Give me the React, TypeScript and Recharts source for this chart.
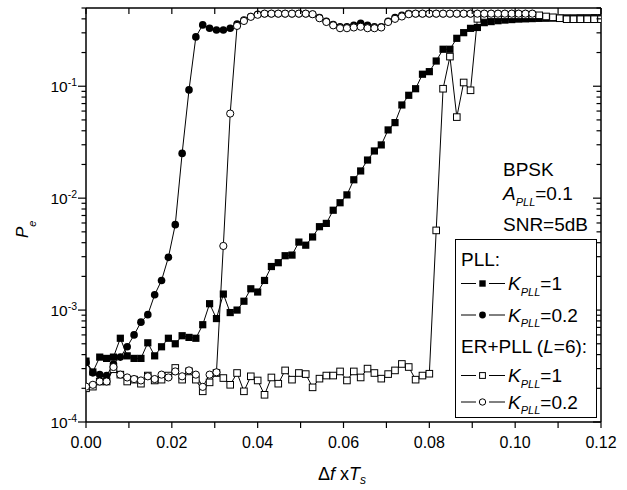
import React from "react";
import { LineChart, Line, XAxis, YAxis, Legend } from "recharts";

const FONT = '"Liberation Sans", Arial, Helvetica, sans-serif';

// frequency offset grid, Δf x Ts
const dfTs = [
  0, 0.0016, 0.0032, 0.0048, 0.0064, 0.008, 0.0096, 0.0112, 0.0128, 0.0144,
  0.016, 0.0176, 0.0192, 0.0208, 0.0224, 0.024, 0.0256, 0.0272, 0.0288, 0.0304,
  0.032, 0.0336, 0.0352, 0.0368, 0.0384, 0.04, 0.0416, 0.0432, 0.0448, 0.0464,
  0.048, 0.0496, 0.0512, 0.0528, 0.0544, 0.056, 0.0576, 0.0592, 0.0608, 0.0624,
  0.064, 0.0656, 0.0672, 0.0688, 0.0704, 0.072, 0.0736, 0.0752, 0.0768, 0.0784,
  0.08, 0.0816, 0.0832, 0.0848, 0.0864, 0.088, 0.0896, 0.0912, 0.0928, 0.0944,
  0.096, 0.0976, 0.0992, 0.1008, 0.1024, 0.104, 0.1056, 0.1072, 0.1088, 0.1104,
  0.112, 0.1136, 0.1152, 0.1168, 0.1184, 0.12,
];

// PLL, K_PLL = 1 (filled squares)
const pllK1 = [
  3.5e-4, 2.8e-4, 3.8e-4, 3.7e-4, 3.8e-4, 5.6e-4, 3.9e-4, 3.7e-4, 3.7e-4, 5.1e-4,
  3.9e-4, 4.7e-4, 5.6e-4, 5.0e-4, 5.9e-4, 5.7e-4, 5.6e-4, 7.4e-4, 1.14e-3, 8.4e-4,
  1.39e-3, 9.5e-4, 1.0e-3, 1.2e-3, 1.55e-3, 1.45e-3, 1.84e-3, 2.45e-3, 2.65e-3, 3.06e-3,
  3.1e-3, 4.05e-3, 3.8e-3, 4.5e-3, 5.56e-3, 5.95e-3, 7.8e-3, 9.1e-3, 1.07e-2, 1.46e-2,
  1.75e-2, 2.19e-2, 2.64e-2, 2.99e-2, 4.07e-2, 4.73e-2, 6.8e-2, 8.3e-2, 9.5e-2, 0.128,
  0.135, 0.168, 0.214, 0.214, 0.268, 0.301, 0.329, 0.335, 0.37, 0.378,
  0.385, 0.39, 0.394, 0.398, 0.4, 0.402, 0.404, 0.405, 0.406, 0.407,
  0.408, 0.408, 0.409, 0.409, 0.41, 0.41,
];

// PLL, K_PLL = 0.2 (filled circles)
const pllK02 = [
  3.4e-4, 2.75e-4, 2.65e-4, 2.6e-4, 3.3e-4, 3.8e-4, 4.7e-4, 6.0e-4, 7.8e-4, 9.1e-4,
  1.37e-3, 1.84e-3, 2.96e-3, 5.8e-3, 2.51e-2, 9.27e-2, 0.276, 0.353, 0.33, 0.318,
  0.318, 0.33, 0.36, 0.39, 0.42, 0.44, 0.445, 0.445, 0.445, 0.445,
  0.445, 0.445, 0.445, 0.44, 0.41, 0.38, 0.355, 0.34, 0.34, 0.35,
  0.365, 0.35, 0.34, 0.34, 0.38, 0.41, 0.43, 0.445, 0.445, 0.445,
  0.445, 0.445, 0.445, 0.445, 0.445, 0.445, 0.445, 0.445, 0.445, 0.445,
  0.445, 0.445, 0.445, 0.445, 0.445, 0.445,
];

// ER+PLL (L=6), K_PLL = 1 (open squares)
const erK1 = [
  2.0e-4, 2.07e-4, 2.3e-4, 2.3e-4, 2.96e-4, 2.65e-4, 2.3e-4, 2.39e-4, 2.2e-4, 2.6e-4,
  2.35e-4, 2.39e-4, 2.6e-4, 3.04e-4, 2.39e-4, 2.83e-4, 2.39e-4, 1.88e-4, 2.26e-4, 2.74e-4,
  2.47e-4, 2.15e-4, 2.74e-4, 1.88e-4, 2.56e-4, 2.35e-4, 1.75e-4, 2.5e-4, 2.2e-4, 2.89e-4,
  2.39e-4, 2.74e-4, 2.68e-4, 2.04e-4, 2.44e-4, 2.6e-4, 2.6e-4, 2.83e-4, 2.35e-4, 2.83e-4,
  2.5e-4, 3.0e-4, 2.74e-4, 2.44e-4, 2.68e-4, 2.89e-4, 3.3e-4, 3.1e-4, 2.39e-4, 2.6e-4,
  2.7e-4, 5.15e-3, 9.5e-2, 0.184, 5.3e-2, 0.108, 9.2e-2, 0.4, 0.425, 0.43,
  0.43, 0.43, 0.43, 0.43, 0.43, 0.43, 0.43, 0.42, 0.413, 0.405,
  0.397, 0.397, 0.397, 0.397, 0.397, 0.397,
];

// ER+PLL (L=6), K_PLL = 0.2 (open circles)
const erK02 = [
  2.07e-4, 2.15e-4, 2.3e-4, 2.3e-4, 3.1e-4, 2.65e-4, 2.5e-4, 2.42e-4, 2.35e-4, 2.56e-4,
  2.42e-4, 2.65e-4, 2.5e-4, 2.83e-4, 2.56e-4, 2.89e-4, 2.65e-4, 2.06e-4, 2.65e-4, 2.78e-4,
  3.74e-3, 5.7e-2, 0.346, 0.383, 0.417, 0.435, 0.445, 0.445, 0.445, 0.445,
  0.445, 0.445, 0.445, 0.44, 0.405, 0.375, 0.35, 0.33, 0.33, 0.335,
  0.34, 0.33, 0.33, 0.335, 0.375, 0.4, 0.42, 0.44, 0.445, 0.445,
  0.445, 0.445, 0.445, 0.445, 0.445, 0.445, 0.445, 0.445, 0.445, 0.445,
  0.445, 0.445, 0.445, 0.445, 0.445, 0.445,
];

const xTicks = [0, 0.01, 0.02, 0.03, 0.04, 0.05, 0.06, 0.07, 0.08, 0.09, 0.1, 0.11, 0.12];
const decades = [1e-4, 1e-3, 1e-2, 1e-1];
const decadeLabels = ["-4", "-3", "-2", "-1"];
const mantissas = [1, 2, 3, 4, 5, 6, 7, 8, 9];
const yTicks = decades.flatMap((d) => mantissas.map((m) => m * d)).filter((v) => v <= 0.5);

const toPoints = (ys: number[]) => ys.map((y, i) => ({ x: dfTs[i], y }));

type Marker = "fsq" | "fci" | "osq" | "oci";

const drawMarker = (kind: Marker, cx: number, cy: number, key?: any, small = false) => {
  const s = small ? 3.2 : 3.6;
  if (kind === "fsq")
    return <rect key={key} x={cx - s} y={cy - s} width={2 * s} height={2 * s} fill="#000" />;
  if (kind === "osq")
    return (
      <rect key={key} x={cx - s + 0.3} y={cy - s + 0.3} width={2 * s - 0.6} height={2 * s - 0.6}
        fill="#fff" stroke="#000" strokeWidth={1} />
    );
  if (kind === "fci") return <circle key={key} cx={cx} cy={cy} r={s + 0.2} fill="#000" />;
  return <circle key={key} cx={cx} cy={cy} r={s} fill="#fff" stroke="#000" strokeWidth={1} />;
};

const dotFor = (kind: Marker) => (p: any) => drawMarker(kind, p.cx, p.cy, `${kind}-${p.index}`);

const series = [
  { key: "pllK1", data: toPoints(pllK1), marker: "fsq" as Marker },
  { key: "pllK02", data: toPoints(pllK02), marker: "fci" as Marker },
  { key: "erK1", data: toPoints(erK1), marker: "osq" as Marker },
  { key: "erK02", data: toPoints(erK02), marker: "oci" as Marker },
];

const BottomTick = (p: any) => {
  const { x, y, payload } = p;
  const v = payload.value;
  const labeled = Math.round(v * 100) % 2 === 0;
  return (
    <g>
      <line x1={x} x2={x} y1={y} y2={y + 6} stroke="#000" strokeWidth={1.2} />
      {labeled && (
        <text x={x} y={y + 26} textAnchor="middle" fontSize={16} fontFamily={FONT} fill="#000">
          {v.toFixed(2)}
        </text>
      )}
    </g>
  );
};

const TopTick = (p: any) => {
  const { x, y } = p;
  return <line x1={x} x2={x} y1={y} y2={y + 6} stroke="#000" strokeWidth={1.2} />;
};

const LeftTick = (p: any) => {
  const { x, y, payload } = p;
  const di = decades.indexOf(payload.value);
  const major = di >= 0;
  return (
    <g>
      <line x1={x - (major ? 8 : 4.5)} x2={x} y1={y} y2={y} stroke="#000" strokeWidth={1.2} />
      {major && (
        <text x={x - 9} y={y + 6} textAnchor="end" fontSize={15.5} fontFamily={FONT} fill="#000">
          10
          <tspan dy={-6} fontSize={10.5}>
            {decadeLabels[di]}
          </tspan>
        </text>
      )}
    </g>
  );
};

const RightTick = (p: any) => {
  const { x, y, payload } = p;
  const major = decades.indexOf(payload.value) >= 0;
  return <line x1={x - (major ? 8 : 4.5)} x2={x} y1={y} y2={y} stroke="#000" strokeWidth={1.2} />;
};

const LegendRow = ({ y, marker, value }: { y: number; marker: Marker; value: string }) => (
  <g>
    <line x1={6} x2={21} y1={y} y2={y} stroke="#000" strokeWidth={1} />
    <line x1={34} x2={50} y1={y} y2={y} stroke="#000" strokeWidth={1} />
    {drawMarker(marker, 27.5, y, undefined, true)}
    <text x={53} y={y + 6.5} fontSize={19} fontFamily={FONT} fill="#000">
      <tspan fontStyle="italic">K</tspan>
      <tspan fontStyle="italic" fontSize={11} dy={5.5}>
        PLL
      </tspan>
      <tspan dy={-5.5}>={value}</tspan>
    </text>
  </g>
);

const LegendBox = () => (
  <svg width={143} height={180} style={{ display: "block" }}>
    <rect x={0.5} y={0.5} width={141} height={178} fill="#fff" stroke="#000" strokeWidth={1} />
    <text x={6} y={27} fontSize={19} fontFamily={FONT} fill="#000">
      PLL:
    </text>
    <LegendRow y={44.5} marker="fsq" value="1" />
    <LegendRow y={76} marker="fci" value="0.2" />
    <text x={6} y={114} fontSize={19} fontFamily={FONT} fill="#000">
      ER+PLL (<tspan fontStyle="italic">L</tspan>=6):
    </text>
    <LegendRow y={136.5} marker="osq" value="1" />
    <LegendRow y={163} marker="oci" value="0.2" />
  </svg>
);

export default function App() {
  return (
    <div style={{ position: "absolute", left: 0, top: 0, width: 627, height: 490, background: "#fff" }}>
      <LineChart width={627} height={490} margin={{ top: 0, right: 0, bottom: 0, left: 0 }}>
        <XAxis
          xAxisId="b"
          dataKey="x"
          type="number"
          domain={[0, 0.12]}
          ticks={xTicks}
          interval={0}
          height={68}
          tickSize={0}
          tickMargin={0}
          tickLine={false}
          axisLine={{ stroke: "#000", strokeWidth: 1.5 }}
          tick={BottomTick}
          allowDataOverflow
        />
        <XAxis
          xAxisId="t"
          orientation="top"
          dataKey="x"
          type="number"
          domain={[0, 0.12]}
          ticks={xTicks}
          interval={0}
          height={8}
          tickSize={0}
          tickMargin={0}
          tickLine={false}
          axisLine={{ stroke: "#000", strokeWidth: 1.5 }}
          tick={TopTick}
          allowDataOverflow
        />
        <YAxis
          yAxisId="l"
          type="number"
          scale="log"
          domain={[1e-4, 0.5]}
          ticks={yTicks}
          interval={0}
          width={86}
          tickSize={0}
          tickMargin={0}
          tickLine={false}
          axisLine={{ stroke: "#000", strokeWidth: 1.5 }}
          tick={LeftTick}
          allowDataOverflow
        />
        <YAxis
          yAxisId="r"
          orientation="right"
          type="number"
          scale="log"
          domain={[1e-4, 0.5]}
          ticks={yTicks}
          interval={0}
          width={26}
          tickSize={0}
          tickMargin={0}
          tickLine={false}
          axisLine={{ stroke: "#000", strokeWidth: 1.5 }}
          tick={RightTick}
          allowDataOverflow
        />
        <Legend
          layout="horizontal"
          verticalAlign="middle"
          align="center"
          content={() => <LegendBox />}
          wrapperStyle={{ position: "absolute", left: 455, top: 239, width: 143, height: 180 }}
        />
        {/* keeps the mirrored top/right axes tied to the same scales */}
        <Line
          xAxisId="t"
          yAxisId="r"
          data={series[0].data}
          dataKey="y"
          stroke="none"
          dot={false}
          legendType="none"
          isAnimationActive={false}
        />
        {series.map((s) => (
          <Line
            key={s.key}
            xAxisId="b"
            yAxisId="l"
            data={s.data}
            dataKey="y"
            type="linear"
            stroke="#000"
            strokeWidth={1}
            dot={dotFor(s.marker)}
            activeDot={false}
            isAnimationActive={false}
          />
        ))}
      </LineChart>
      <svg
        width={627}
        height={490}
        style={{ position: "absolute", left: 0, top: 0, pointerEvents: "none" }}
      >
        <g fontFamily={FONT} fill="#000">
          <text x={503} y={176} fontSize={19}>
            BPSK
          </text>
          <text x={503} y={200} fontSize={19}>
            <tspan fontStyle="italic">A</tspan>
            <tspan fontStyle="italic" fontSize={11} dy={6}>
              PLL
            </tspan>
            <tspan dy={-6}>=0.1</tspan>
          </text>
          <text x={503} y={231} fontSize={19}>
            SNR=5dB
          </text>
          <text x={318} y={480} fontSize={18}>
            Δ<tspan fontStyle="italic">f</tspan> x<tspan fontStyle="italic">T</tspan>
            <tspan fontStyle="italic" fontSize={12} dy={4}>
              s
            </tspan>
          </text>
          <text transform="translate(28,238) rotate(-90)" fontSize={17}>
            <tspan fontStyle="italic">P</tspan>
            <tspan fontStyle="italic" fontSize={11} dy={8}>
              e
            </tspan>
          </text>
        </g>
      </svg>
    </div>
  );
}
